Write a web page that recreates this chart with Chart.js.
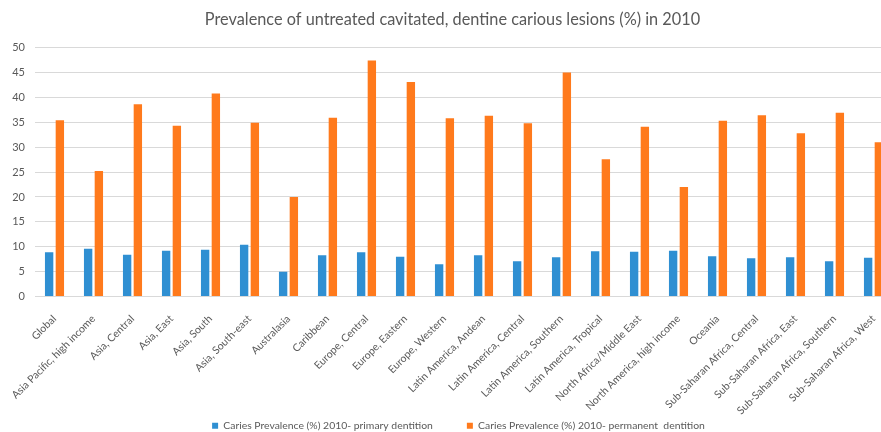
<!DOCTYPE html>
<html>
<head>
<meta charset="utf-8">
<script src="https://cdn.jsdelivr.net/npm/chart.js@4.4.1/dist/chart.umd.min.js"></script>
<style>
html,body{margin:0;padding:0;overflow:hidden;background:#fff;width:881px;height:432px;}
#wrap{position:absolute;left:0;top:0;width:900px;height:471px;}
</style>
</head>
<body>
<div id="wrap"><canvas id="c" width="900" height="471"></canvas></div>
<script>
const categories = ["Global","Asia Pacific, high income","Asia, Central","Asia, East","Asia, South","Asia, South-east","Australasia","Caribbean","Europe, Central","Europe, Eastern","Europe, Western","Latin America, Andean","Latin America, Central","Latin America, Southern","Latin America, Tropical","North Africa/Middle East","North America, high income","Oceania","Sub-Saharan Africa, Central","Sub-Saharan Africa, East","Sub-Saharan Africa, Southern","Sub-Saharan Africa, West"];
const primary = [8.9,9.6,8.4,9.2,9.4,10.4,5.0,8.3,8.9,8.0,6.5,8.3,7.1,7.9,9.1,9.0,9.2,8.1,7.7,7.9,7.1,7.8];
const permanent = [35.4,25.2,38.6,34.3,40.8,34.9,20.0,35.9,47.4,43.1,35.8,36.3,34.8,45.0,27.6,34.1,22.0,35.3,36.4,32.8,36.9,31.0];
const seriesNames = ["Caries Prevalence (%) 2010- primary dentition","Caries Prevalence (%) 2010- permanent  dentition"];
const titleText = "Prevalence of untreated cavitated, dentine carious lesions (%) in 2010";

const FONT = "Lato, 'Open Sans', sans-serif";
const GRAY = "#595959";

// lift the legend so it sits close under the rotated category labels
const legendLift = {
  id: 'legendLift',
  afterLayout(chart) {
    const l = chart.legend;
    if (l) { l.top -= 30; l.bottom -= 30; l.left += 6; l.right += 6; }
  }
};

new Chart(document.getElementById('c'), {
  type: 'bar',
  data: {
    labels: categories,
    datasets: [
      {label: seriesNames[0], data: primary, backgroundColor: '#2F8FD2', categoryPercentage: 0.55, barPercentage: 0.78},
      {label: seriesNames[1], data: permanent, backgroundColor: '#FF7A1C', categoryPercentage: 0.55, barPercentage: 0.78}
    ]
  },
  plugins: [legendLift],
  options: {
    responsive: false,
    animation: false,
    layout: {padding: {left: 12, right: 7, top: 0, bottom: 0}},
    plugins: {
      title: {display: true, text: titleText, color: GRAY, font: {family: FONT, size: 16.3, weight: 'normal'}, padding: {top: 10, bottom: 18}},
      legend: {position: 'bottom', labels: {boxWidth: 6, boxHeight: 6, padding: 34, color: GRAY, font: {family: FONT, size: 10.4}}},
      tooltip: {enabled: false}
    },
    scales: {
      x: {
        grid: {display: false},
        border: {color: '#d9d9d9'},
        ticks: {color: GRAY, font: {family: FONT, size: 10.5}, minRotation: 45, maxRotation: 45, autoSkip: false, padding: 8},
        afterFit: s => { s.height = 120; }
      },
      y: {
        min: 0, max: 50,
        ticks: {stepSize: 5, color: GRAY, font: {family: FONT, size: 11}, padding: 10},
        grid: {color: '#d9d9d9', drawTicks: false},
        border: {display: false},
        afterFit: s => { s.width = 23; }
      }
    }
  }
});
</script>
</body>
</html>
